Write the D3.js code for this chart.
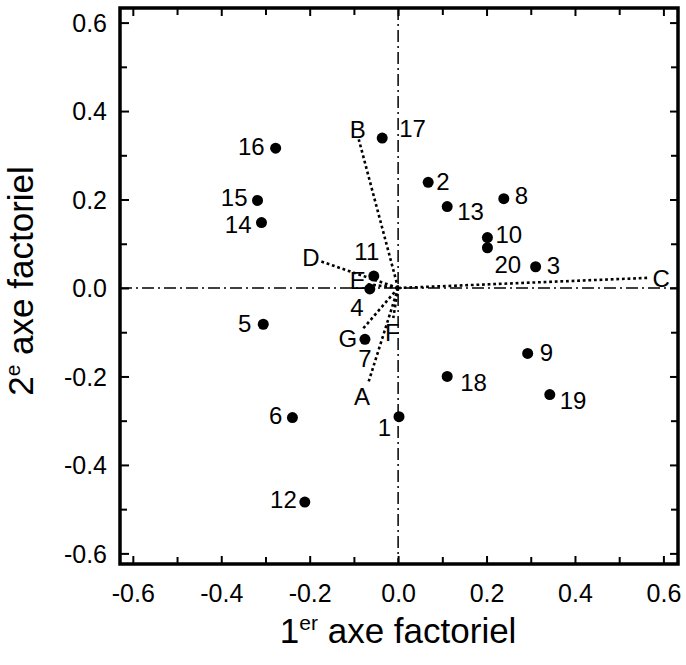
<!DOCTYPE html>
<html>
<head>
<meta charset="utf-8">
<script src="https://cdn.jsdelivr.net/npm/d3@7"></script>
<style>
  body { margin: 0; background: #fff; }
  svg { display: block; font-family: "Liberation Sans", Arial, Helvetica, sans-serif; }
</style>
</head>
<body>
<div id="chart"></div>
<script>
(function() {
    // individuals (numbered points)
    const pointIds = ["1","2","3","4","5","6","7","8","9","10","11","12","13","14","15","16","17","18","19","20"];
    const pointX = [0.002, 0.068, 0.311, -0.064, -0.305, -0.239, -0.075, 0.239, 0.293, 0.202, -0.055, -0.211, 0.111, -0.309, -0.318, -0.277, -0.036, 0.111, 0.343, 0.202];
    const pointY = [-0.291, 0.239, 0.048, -0.002, -0.082, -0.293, -0.116, 0.202, -0.148, 0.114, 0.027, -0.484, 0.184, 0.148, 0.198, 0.316, 0.339, -0.200, -0.241, 0.091];

    // variables (dotted vectors from origin)
    const varNames = ["A","B","C","D","E","F","G"];
    const varX = [-0.068, -0.089, 0.568, -0.177, -0.073, -0.011, -0.082];
    const varY = [-0.216, 0.336, 0.023, 0.061, 0.009, -0.068, -0.095];

    const majorTicks = [-0.6, -0.4, -0.2, 0.0, 0.2, 0.4, 0.6];
    const minorTicks = [-0.5, -0.3, -0.1, 0.1, 0.3, 0.5];

    // label placement (layout only)
    const pointLabelPos = {
        "1": ["end", -8, 11], "2": ["start", 8, -1], "3": ["start", 11, -1], "4": ["middle", -13, 19],
        "5": ["end", -12, -1], "6": ["end", -10, -2], "7": ["middle", 0, 19], "8": ["start", 11, -3],
        "9": ["start", 12, -1], "10": ["start", 8, -3], "11": ["middle", -7, -24], "12": ["end", -8, -2],
        "13": ["start", 10, 5], "14": ["end", -10, 2], "15": ["end", -10, -3], "16": ["end", -11, -2],
        "17": ["start", 17, -9], "18": ["start", 13, 6], "19": ["start", 10, 6], "20": ["start", 7, 17]
    };
    const varLabelPos = {
        A: [-6, 13], B: [-1, -10], C: [12, 1], D: [-9, -3], E: [-8, -3], F: [-1, 15], G: [-14, 9]
    };

    const width = 686, height = 665;
    const left = 120, right = 678, top = 8, bottom = 564;

    const svg = d3.select("#chart").append("svg")
        .attr("width", width).attr("height", height);

    const x = d3.scaleLinear().domain([-0.629, 0.633]).range([left, right]);
    const y = d3.scaleLinear().domain([-0.624, 0.633]).range([bottom, top]);

    // plain hyphen for the minus sign, as in the original
    const fmt = d => d3.format(".1f")(d).replace("\u2212", "-");

    // ticks on all four sides, pointing inward
    const addAxis = (axisFn, scale, tx, ty, values, size, labels) => {
        const g = svg.append("g")
            .attr("transform", `translate(${tx},${ty})`)
            .call(axisFn(scale).tickValues(values).tickSize(size).tickSizeOuter(0)
                .tickFormat(labels ? fmt : () => ""));
        g.select(".domain").remove();
        g.selectAll(".tick line").attr("stroke", "#000").attr("stroke-width", 2);
        return g;
    };

    const gx = addAxis(d3.axisBottom, x, 0, bottom, majorTicks, -8, true);
    addAxis(d3.axisBottom, x, 0, bottom, minorTicks, -7, false);
    addAxis(d3.axisTop, x, 0, top, majorTicks, -8, false);
    addAxis(d3.axisTop, x, 0, top, minorTicks, -7, false);
    const gy = addAxis(d3.axisLeft, y, left, 0, majorTicks, -9, true);
    addAxis(d3.axisLeft, y, left, 0, minorTicks, -7, false);
    addAxis(d3.axisRight, y, right, 0, majorTicks, -8, false);
    addAxis(d3.axisRight, y, right, 0, minorTicks, -7, false);

    gx.selectAll(".tick text")
        .attr("y", 0).attr("dy", 38)
        .style("font-size", "25px").attr("fill", "#000");
    gy.selectAll(".tick text")
        .attr("x", -13).attr("dy", "0.35em")
        .style("font-size", "25px").attr("fill", "#000");

    // zero axes, dash-dot
    svg.append("line")
        .attr("x1", left).attr("x2", right)
        .attr("y1", y(0)).attr("y2", y(0))
        .attr("stroke", "#000").attr("stroke-width", 1.5)
        .attr("stroke-dasharray", "12,4,2,4");
    svg.append("line")
        .attr("x1", x(0)).attr("x2", x(0))
        .attr("y1", top).attr("y2", bottom)
        .attr("stroke", "#000").attr("stroke-width", 1.5)
        .attr("stroke-dasharray", "12,4,2,4");

    // frame
    svg.append("rect")
        .attr("x", left).attr("y", top)
        .attr("width", right - left).attr("height", bottom - top)
        .attr("fill", "none").attr("stroke", "#000").attr("stroke-width", 3.5);

    // variable vectors
    varNames.forEach((name, i) => {
        svg.append("line")
            .attr("x1", x(0)).attr("y1", y(0))
            .attr("x2", x(varX[i])).attr("y2", y(varY[i]))
            .attr("stroke", "#000").attr("stroke-width", 2.6)
            .attr("stroke-dasharray", "2.8,2.8");
    });
    varNames.forEach((name, i) => {
        const p = varLabelPos[name];
        svg.append("text")
            .attr("x", x(varX[i]) + p[0])
            .attr("y", y(varY[i]) + p[1])
            .attr("dy", "0.35em")
            .attr("text-anchor", "middle")
            .style("font-size", "24px")
            .text(name);
    });

    // individuals
    pointIds.forEach((id, i) => {
        svg.append("circle")
            .attr("cx", x(pointX[i])).attr("cy", y(pointY[i]))
            .attr("r", 5.5).attr("fill", "#000");
        const p = pointLabelPos[id];
        svg.append("text")
            .attr("x", x(pointX[i]) + p[1])
            .attr("y", y(pointY[i]) + p[2])
            .attr("dy", "0.35em")
            .attr("text-anchor", p[0])
            .style("font-size", "24px")
            .text(id);
    });

    // axis titles
    const xt = svg.append("text")
        .attr("x", x(0)).attr("y", 643)
        .attr("text-anchor", "middle")
        .style("font-size", "35px");
    xt.append("tspan").text("1");
    xt.append("tspan").attr("dy", -13).style("font-size", "21px").text("er");
    xt.append("tspan").attr("dy", 13).text(" axe factoriel");

    const yt = svg.append("text")
        .attr("transform", `translate(33,${y(0) - 7}) rotate(-90)`)
        .attr("text-anchor", "middle")
        .style("font-size", "35px");
    yt.append("tspan").text("2");
    yt.append("tspan").attr("dy", -13).style("font-size", "21px").text("e");
    yt.append("tspan").attr("dy", 13).text(" axe factoriel");
})();
</script>
</body>
</html>
